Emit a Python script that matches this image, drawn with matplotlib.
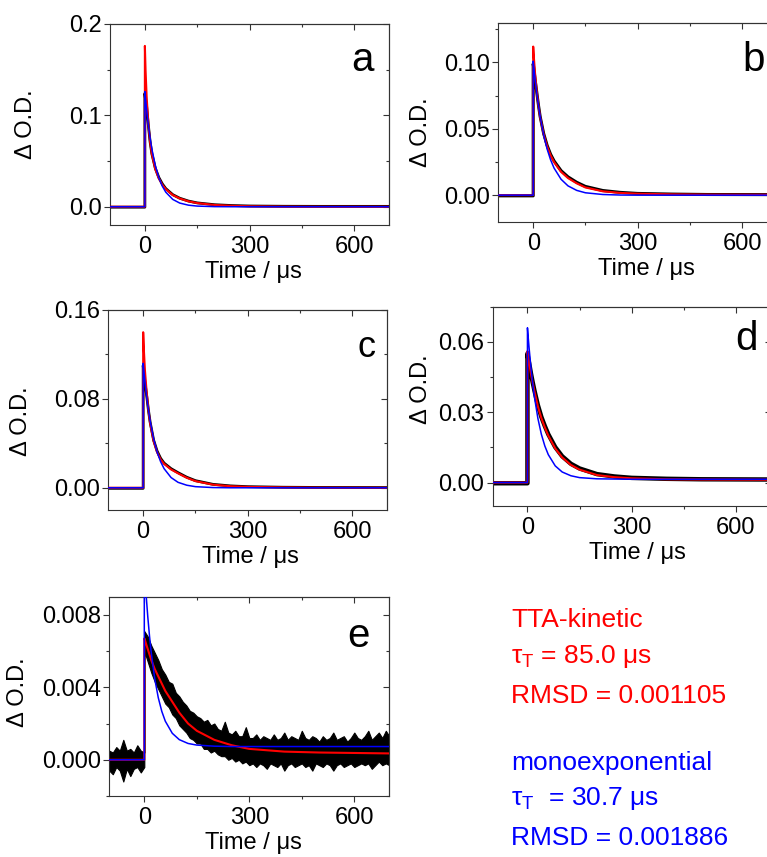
import matplotlib
matplotlib.use("Agg")
import matplotlib.pyplot as plt
from matplotlib.ticker import MultipleLocator, FormatStrFormatter

plt.rcParams["font.family"] = ["Liberation Sans", "DejaVu Sans"]
plt.rcParams["mathtext.fontset"] = "custom"
plt.rcParams["mathtext.rm"] = "Liberation Sans"
plt.rcParams["mathtext.it"] = "Liberation Sans"

# ---- data (time in us, delta O.D.) ----
t_fit = [-100, 0, 0, 2, 5, 10, 15, 20, 30, 40, 50, 60, 80, 100, 125, 150, 200, 250, 300, 400, 500, 700]

black_a = [-0.0005, -0.0005, 0.124, 0.117, 0.110, 0.089, 0.071, 0.058, 0.042, 0.032, 0.025, 0.0198, 0.0132, 0.0093, 0.0062, 0.0042, 0.0022, 0.0013, 0.0008, 0.0005, 0.0004, 0.0004]
red_a = [0, 0, 0.176, 0.149, 0.121, 0.090, 0.071, 0.058, 0.041, 0.031, 0.024, 0.0192, 0.0128, 0.0090, 0.0059, 0.0040, 0.0019, 0.0010, 0.0005, 0.0001, 0, 0]
blue_a = [0, 0, 0.126, 0.1176, 0.106, 0.0892, 0.0751, 0.0632, 0.0448, 0.0317, 0.0225, 0.0159, 0.0080, 0.0040, 0.0017, 0.0007, 0.0001, 0, 0, 0, 0, 0]

black_b = [-0.0005, -0.0005, 0.099, 0.095, 0.088, 0.0780, 0.068, 0.0592, 0.0465, 0.0375, 0.0308, 0.0258, 0.0185, 0.0138, 0.0097, 0.0066, 0.0035, 0.0021, 0.0013, 0.0008, 0.0005, 0.0004]
red_b = [0, 0, 0.112, 0.1036, 0.0929, 0.0787, 0.0677, 0.0589, 0.0459, 0.0368, 0.0300, 0.0249, 0.0176, 0.0129, 0.0089, 0.0058, 0.0029, 0.0017, 0.0011, 0.0006, 0.0004, 0.0003]
blue_b = [0, 0, 0.101, 0.0958, 0.0884, 0.0774, 0.0677, 0.0593, 0.0454, 0.0348, 0.0266, 0.0204, 0.0120, 0.0070, 0.0036, 0.0018, 0.0005, 0.0001, 0, 0, 0, 0]

black_c = [-0.0005, -0.0005, 0.110, 0.104, 0.095, 0.083, 0.070, 0.059, 0.0428, 0.033, 0.0265, 0.0222, 0.0172, 0.0136, 0.0095, 0.0064, 0.0031, 0.0017, 0.0010, 0.0005, 0.0003, 0.0002]
red_c = [0, 0, 0.140, 0.124, 0.106, 0.086, 0.070, 0.058, 0.042, 0.032, 0.0255, 0.0215, 0.0165, 0.0130, 0.0090, 0.0060, 0.0028, 0.0014, 0.0008, 0.0003, 0.0001, 0]
blue_c = [0, 0, 0.112, 0.1052, 0.0958, 0.0820, 0.0701, 0.0600, 0.0439, 0.0321, 0.0235, 0.0172, 0.0092, 0.0049, 0.0023, 0.0010, 0.0002, 0, 0, 0, 0, 0]

black_d = [-0.0003, -0.0003, 0.055, 0.053, 0.0508, 0.0466, 0.0428, 0.0393, 0.0330, 0.0280, 0.0241, 0.0206, 0.0151, 0.0112, 0.0080, 0.0060, 0.0036, 0.0026, 0.0020, 0.0016, 0.0014, 0.0013]
red_d = [0, 0, 0.056, 0.0538, 0.0510, 0.0465, 0.0425, 0.0390, 0.0325, 0.0275, 0.0235, 0.0200, 0.0145, 0.0107, 0.0075, 0.0055, 0.0032, 0.0023, 0.0018, 0.0014, 0.0013, 0.0012]
blue_d = [0, 0, 0.066, 0.0622, 0.0570, 0.0491, 0.0424, 0.0366, 0.0274, 0.0206, 0.0156, 0.0119, 0.0071, 0.0045, 0.0029, 0.0021, 0.0016, 0.0015, 0.0014, 0.0014, 0.0014, 0.0014]

red_e = [0, 0, 0.0067, 0.0066, 0.0064, 0.0061, 0.0058, 0.0055, 0.0050, 0.0046, 0.0042, 0.0038, 0.0032, 0.0026, 0.0020, 0.0016, 0.0011, 0.0008, 0.0006, 0.00045, 0.0004, 0.00035]
blue_e = [0, 0, 0.0106, 0.0100, 0.00915, 0.00788, 0.0068, 0.00589, 0.00445, 0.00342, 0.00267, 0.00213, 0.00146, 0.00111, 0.0009, 0.00081, 0.00075, 0.00073, 0.00073, 0.00073, 0.00073, 0.00073]

# panel e raw data is very noisy: upper / lower envelope of the trace
e_t = [-100, -90, -80, -70, -60, -50, -40, -30, -20, -10, 0,
       0, 10, 20, 30, 40, 50, 60, 70, 80, 90, 100, 110, 120, 130, 140, 150, 160, 170, 180, 190,
       200, 210, 220, 230, 240, 250, 260, 270, 280, 290, 300, 310, 320, 330, 340, 350, 360, 370, 380, 390,
       400, 410, 420, 430, 440, 450, 460, 470, 480, 490, 500, 510, 520, 530, 540, 550, 560, 570, 580, 590,
       600, 610, 620, 630, 640, 650, 660, 670, 680, 690, 700]
e_hi = [0.0005, 0.0004, 0.0007, 0.0005, 0.0011, 0.0005, 0.0006, 0.0004, 0.0008, 0.0005, 0.0004,
        0.0071, 0.0068, 0.0063, 0.0059, 0.0055, 0.0050, 0.0047, 0.0043, 0.0042, 0.0037, 0.0035, 0.0032, 0.0030, 0.0027, 0.0026, 0.0024, 0.0023, 0.0021, 0.0022, 0.0019,
        0.0020, 0.0017, 0.0016, 0.0021, 0.0015, 0.0014, 0.0016, 0.0013, 0.0013, 0.0018, 0.0012, 0.0012, 0.0014, 0.0011, 0.0013, 0.0012, 0.0011, 0.0014, 0.0011, 0.0012,
        0.0015, 0.0011, 0.0013, 0.0012, 0.0011, 0.0016, 0.0012, 0.0011, 0.0013, 0.0012, 0.0010, 0.0013, 0.0011, 0.0012, 0.0015, 0.0011, 0.0012, 0.0013, 0.0010, 0.0012,
        0.0015, 0.0012, 0.0011, 0.0013, 0.0016, 0.0011, 0.0013, 0.0015, 0.0012, 0.0016, 0.0013]
e_lo = [-0.0006, -0.0008, -0.0004, -0.0006, -0.0012, -0.0005, -0.0009, -0.0005, -0.0004, -0.0007, -0.0004,
        0.0060, 0.0054, 0.0048, 0.0043, 0.0039, 0.0035, 0.0031, 0.0029, 0.0025, 0.0023, 0.0019, 0.0017, 0.0015, 0.0012, 0.0011, 0.0009, 0.0009, 0.0006, 0.0006, 0.0004,
        0.0005, 0.0003, 0.0002, 0.0002, 0.0000, 0.0001, -0.0001, 0.0000, -0.0002, -0.0001, -0.0003, -0.0002, -0.0004, -0.0002, -0.0003, -0.0005, -0.0002, -0.0003, -0.0004, -0.0002,
        -0.0006, -0.0003, -0.0002, -0.0004, -0.0003, -0.0002, -0.0004, -0.0003, -0.0006, -0.0002, -0.0003, -0.0004, -0.0002, -0.0003, -0.0006, -0.0003, -0.0002, -0.0004, -0.0003, -0.0002,
        -0.0004, -0.0003, -0.0002, -0.0003, -0.0002, -0.0005, -0.0003, -0.0001, -0.0003, -0.0002, -0.0003]

W, H = 767, 857
RED = "#ff0000"
BLUE = "#0000ff"
AX_COL = "#333333"

fig = plt.figure(figsize=(W / 100, H / 100), dpi=100)


def panel(box, ylim, ymaj, ymin, fmt, ylab_x, ylab_y, xlab_x, letter, letter_xy, letter_size=29):
    left, top, right, bottom = box
    ax = fig.add_axes([left / W, 1 - bottom / H, (right - left) / W, (bottom - top) / H])
    ax.set_xlim(-100, 700)
    ax.set_ylim(*ylim)
    for s in ax.spines.values():
        s.set_color(AX_COL)
        s.set_linewidth(0.8)
    ax.xaxis.set_major_locator(MultipleLocator(300))
    ax.xaxis.set_minor_locator(MultipleLocator(150))
    ax.yaxis.set_major_locator(MultipleLocator(ymaj))
    ax.yaxis.set_minor_locator(MultipleLocator(ymin))
    ax.yaxis.set_major_formatter(FormatStrFormatter(fmt))
    ax.tick_params(which="both", direction="out", color=AX_COL, width=0.8, labelsize=17)
    ax.tick_params(which="major", length=4)
    ax.tick_params(which="minor", length=2.5)
    ax.tick_params(axis="x", pad=4)
    ax.tick_params(axis="y", pad=2)

    # origin style: mirrored ticks pointing inward on top and right
    sx = ax.secondary_xaxis("top")
    sx.xaxis.set_major_locator(MultipleLocator(300))
    sx.xaxis.set_minor_locator(MultipleLocator(150))
    sx.tick_params(which="both", direction="in", labeltop=False, color=AX_COL, width=0.8)
    sx.tick_params(which="major", length=4)
    sx.tick_params(which="minor", length=2.5)
    sx.spines["top"].set_color(AX_COL)
    sx.spines["top"].set_linewidth(0.8)
    sy = ax.secondary_yaxis("right")
    sy.yaxis.set_major_locator(MultipleLocator(ymaj))
    sy.yaxis.set_minor_locator(MultipleLocator(ymin))
    sy.tick_params(which="both", direction="in", labelright=False, color=AX_COL, width=0.8)
    sy.tick_params(which="major", length=4)
    sy.tick_params(which="minor", length=2.5)
    sy.spines["right"].set_color(AX_COL)
    sy.spines["right"].set_linewidth(0.8)

    ax.set_xlabel("Time / \u03bcs", fontsize=17)
    ax.xaxis.set_label_coords(xlab_x, -0.18)
    ax.set_ylabel("\u0394 O.D.", fontsize=17, family="Liberation Sans")
    ax.yaxis.set_label_coords(ylab_x, ylab_y)
    ax.text(letter_xy[0], letter_xy[1], letter, transform=ax.transAxes,
            fontsize=letter_size, ha="right", va="baseline")
    return ax


ax_a = panel((110, 24, 389, 225), (-0.02, 0.2), 0.1, 0.05, "%.1f", -0.262, 0.5, 0.514, "a", (0.946, 0.768))
ax_b = panel((498.4, 22.7, 776.8, 221.7), (-0.02, 0.13), 0.05, 0.025, "%.2f", -0.240, 0.45, 0.53, "b", (0.958, 0.759))
ax_c = panel((108.3, 310, 387.3, 510), (-0.02, 0.16), 0.08, 0.04, "%.2f", -0.275, 0.446, 0.508, "c", (0.956, 0.767), 26)
ax_d = panel((492.7, 306.7, 770.7, 506), (-0.01, 0.075), 0.03, 0.015, "%.2f", -0.219, 0.587, 0.521, "d", (0.955, 0.783))
ax_e = panel((109.3, 596.7, 389.3, 796), (-0.002, 0.009), 0.004, 0.002, "%.3f", -0.286, 0.523, 0.513, "e", (0.931, 0.746))

for ax, bk, rd, bl, lw in [(ax_a, black_a, red_a, blue_a, 2.0),
                           (ax_b, black_b, red_b, blue_b, 2.2),
                           (ax_c, black_c, red_c, blue_c, 2.0),
                           (ax_d, black_d, red_d, blue_d, 3.2)]:
    ax.plot(t_fit, bk, color="black", lw=lw, zorder=2)
    ax.plot(t_fit, rd, color=RED, lw=1.5, zorder=3)
    ax.plot(t_fit, bl, color=BLUE, lw=1.1, zorder=4)

ax_e.fill_between(e_t, e_lo, e_hi, color="black", lw=0.8, zorder=2)
ax_e.plot(t_fit, red_e, color=RED, lw=1.5, zorder=3)
ax_e.plot(t_fit, blue_e, color=BLUE, lw=1.1, zorder=4)

# fit summary text
tx = 511 / W
fig.text(tx, 1 - 627 / H, "TTA-kinetic", color=RED, fontsize=19, va="baseline")
fig.text(tx, 1 - 663 / H, "$\\mathregular{\\tau_T}$ = 85.0 \u03bcs", color=RED, fontsize=19, va="baseline")
fig.text(tx, 1 - 703 / H, "RMSD = 0.001105", color=RED, fontsize=19, va="baseline")
fig.text(tx, 1 - 770 / H, "monoexponential", color=BLUE, fontsize=19, va="baseline")
fig.text(tx, 1 - 805 / H, "$\\mathregular{\\tau_T}$  = 30.7 \u03bcs", color=BLUE, fontsize=19, va="baseline")
fig.text(tx, 1 - 845 / H, "RMSD = 0.001886", color=BLUE, fontsize=19, va="baseline")

fig.savefig("out.png", dpi=100)
